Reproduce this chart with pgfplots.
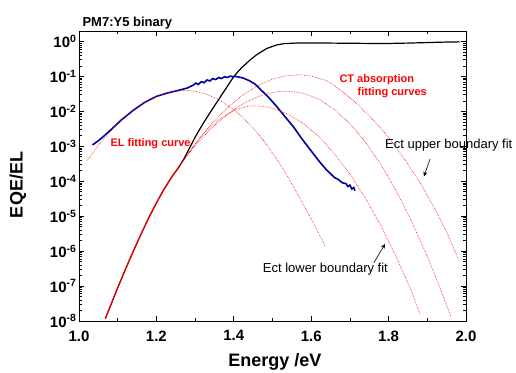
\documentclass[border=0pt]{standalone}
\usepackage{pgfplots}
\pgfplotsset{compat=1.18}
\usepackage{pgfplotstable}
\usepackage{fontspec}
\setmainfont{Liberation Sans}
\usetikzlibrary{arrows.meta}
\definecolor{elblue}{RGB}{0,0,160}

\pgfplotstableread{
x L
1.068 -7.93
1.08 -7.60
1.10 -7.05
1.12 -6.52
1.14 -6.01
1.16 -5.52
1.18 -5.05
1.20 -4.62
1.22 -4.22
1.24 -3.87
1.26 -3.56
1.27 -3.38
1.28 -3.17
1.30 -2.74
1.321 -2.34
1.339 -2.03
1.356 -1.74
1.38 -1.34
1.40 -1.00
1.42 -0.75
1.442 -0.53
1.46 -0.37
1.485 -0.20
1.51 -0.10
1.53 -0.06
1.56 -0.045
1.60 -0.04
1.65 -0.045
1.70 -0.05
1.75 -0.055
1.80 -0.055
1.85 -0.045
1.90 -0.03
1.95 -0.015
1.985 -0.01
}\eqe

\pgfplotstableread{
x L
1.035 -2.96
1.05 -2.84
1.065 -2.70
1.08 -2.55
1.11 -2.24
1.14 -1.97
1.17 -1.74
1.20 -1.57
1.23 -1.47
1.26 -1.39
1.28 -1.33
1.295 -1.25
1.302 -1.19
1.308 -1.23
1.316 -1.15
1.323 -1.18
1.331 -1.10
1.338 -1.13
1.346 -1.06
1.353 -1.09
1.361 -1.03
1.368 -1.06
1.376 -1.01
1.383 -1.03
1.391 -0.99
1.398 -1.01
1.405 -1.00
1.415 -1.02
1.425 -1.05
1.44 -1.12
1.455 -1.22
1.468 -1.36
1.49 -1.60
1.51 -1.85
1.53 -2.12
1.554 -2.44
1.575 -2.77
1.597 -3.09
1.62 -3.42
1.64 -3.68
1.66 -3.89
1.67 -3.95
1.68 -4.04
1.69 -4.07
1.695 -4.15
1.70 -4.11
1.705 -4.22
1.71 -4.18
1.713 -4.27
}\el

\pgfplotstableread{
x L
1.021 -3.40
1.05 -2.97
1.08 -2.58
1.11 -2.24
1.14 -1.97
1.17 -1.74
1.20 -1.57
1.23 -1.46
1.25 -1.42
1.275 -1.40
1.30 -1.42
1.33 -1.51
1.36 -1.66
1.39 -1.87
1.42 -2.14
1.45 -2.48
1.48 -2.88
1.51 -3.35
1.54 -3.88
1.57 -4.47
1.60 -5.08
1.636 -5.85
}\elfit

\pgfplotstableread{
x L
1.068 -7.93
1.08 -7.60
1.10 -7.05
1.12 -6.52
1.14 -6.01
1.16 -5.52
1.18 -5.05
1.20 -4.62
1.22 -4.22
1.24 -3.87
1.26 -3.57
}\common

\pgfplotstableread{
x L
1.26 -3.57
1.28 -3.25
1.30 -2.94
1.32 -2.66
1.34 -2.39
1.36 -2.15
1.38 -1.94
1.40 -1.74
1.42 -1.56
1.44 -1.41
1.46 -1.28
1.48 -1.17
1.50 -1.08
1.53 -0.99
1.57 -0.95
1.60 -0.99
1.64 -1.12
1.68 -1.42
1.72 -1.80
1.76 -2.24
1.80 -2.74
1.84 -3.35
1.88 -4.02
1.92 -4.80
1.95 -5.45
1.98 -6.23
}\ctone

\pgfplotstableread{
x L
1.26 -3.55
1.28 -3.26
1.30 -2.99
1.32 -2.74
1.34 -2.51
1.36 -2.30
1.38 -2.12
1.40 -1.95
1.42 -1.81
1.44 -1.69
1.46 -1.59
1.48 -1.52
1.50 -1.46
1.52 -1.43
1.54 -1.42
1.58 -1.48
1.62 -1.65
1.66 -1.95
1.70 -2.35
1.74 -2.88
1.78 -3.52
1.82 -4.28
1.86 -5.16
1.90 -6.15
1.93 -6.97
1.961 -7.88
}\cttwo

\pgfplotstableread{
x L
1.26 -3.57
1.28 -3.23
1.30 -2.93
1.32 -2.67
1.34 -2.44
1.36 -2.25
1.38 -2.10
1.40 -1.98
1.42 -1.90
1.44 -1.85
1.455 -1.84
1.48 -1.86
1.50 -1.91
1.54 -2.08
1.58 -2.35
1.62 -2.72
1.66 -3.21
1.70 -3.79
1.74 -4.48
1.78 -5.27
1.82 -6.17
1.86 -7.17
1.881 -7.80
}\ctthree

\begin{document}
\begin{tikzpicture}
\useasboundingbox (0,0) rectangle (516pt,372pt);
\begin{axis}[
  at={(79pt,51pt)}, anchor=south west,
  scale only axis, width=387pt, height=290pt,
  xmin=1, xmax=2,
  ymode=log, log basis y=10, ymin=1e-8, ymax=2,
  xtick={1.0,1.2,1.4,1.6,1.8,2.0},
  xticklabels={1.0,1.2,1.4,1.6,1.8,2.0},
  minor xtick={1.1,1.3,1.5,1.7,1.9},
  ytick={1e-8,1e-7,1e-6,1e-5,1e-4,1e-3,1e-2,1e-1,1},
  yticklabels={10\textsuperscript{-8},10\textsuperscript{-7},10\textsuperscript{-6},10\textsuperscript{-5},10\textsuperscript{-4},10\textsuperscript{-3},10\textsuperscript{-2},10\textsuperscript{-1},10\textsuperscript{0}},
  minor ytick={2e-8,3e-8,4e-8,5e-8,6e-8,7e-8,8e-8,9e-8,
               2e-7,3e-7,4e-7,5e-7,6e-7,7e-7,8e-7,9e-7,
               2e-6,3e-6,4e-6,5e-6,6e-6,7e-6,8e-6,9e-6,
               2e-5,3e-5,4e-5,5e-5,6e-5,7e-5,8e-5,9e-5,
               2e-4,3e-4,4e-4,5e-4,6e-4,7e-4,8e-4,9e-4,
               2e-3,3e-3,4e-3,5e-3,6e-3,7e-3,8e-3,9e-3,
               2e-2,3e-2,4e-2,5e-2,6e-2,7e-2,8e-2,9e-2,
               2e-1,3e-1,4e-1,5e-1,6e-1,7e-1,8e-1,9e-1,2},
  tick align=inside,
  major tick length=5pt, minor tick length=3pt,
  axis line style={line width=1pt},
  every tick/.style={black, line width=0.7pt},
  ticklabel style={font=\bfseries\fontsize{15}{15}\selectfont},
  yticklabel style={xshift=1pt},
  xticklabel style={yshift=-6pt},
  xlabel={Energy /eV},
  ylabel={EQE/EL},
  xlabel style={font=\bfseries\fontsize{18}{18}\selectfont, at={(axis description cs:0.506,-0.141)}, anchor=center},
  ylabel style={font=\bfseries\fontsize{18}{18}\selectfont, at={(axis description cs:-0.158,0.469)}, anchor=center},
  clip=false,
]
\addplot[black, line width=1.2pt] table[x=x, y expr={10^(\thisrow{L})}] {\eqe};
\addplot[elblue, line width=1.6pt] table[x=x, y expr={10^(\thisrow{L})}] {\el};
\addplot[red, line width=0.6pt, densely dotted] table[x=x, y expr={10^(\thisrow{L})}] {\elfit};
\addplot[red, line width=0.6pt, densely dotted] table[x=x, y expr={10^(\thisrow{L})}] {\ctone};
\addplot[red, line width=0.6pt, densely dotted] table[x=x, y expr={10^(\thisrow{L})}] {\cttwo};
\addplot[red, line width=0.6pt, densely dotted] table[x=x, y expr={10^(\thisrow{L})}] {\ctthree};
\addplot[red, line width=1.1pt] table[x=x, y expr={10^(\thisrow{L})}] {\common};

\node[anchor=base west, font=\bfseries\fontsize{13}{13}\selectfont] at (axis description cs:0,1.015) {PM7:Y5 binary};
\node[anchor=west, red, font=\bfseries\fontsize{11}{11}\selectfont] at (axis description cs:0.0724,0.612) {EL fitting curve};
\node[anchor=west, red, font=\bfseries\fontsize{11}{11}\selectfont] at (axis description cs:0.664,0.831) {CT absorption};
\node[anchor=west, red, font=\bfseries\fontsize{11}{11}\selectfont] at (axis description cs:0.711,0.787) {fitting curves};
\node[anchor=west, font=\fontsize{13}{13}\selectfont] at (axis description cs:0.782,0.605) {Ect upper boundary fit};
\node[anchor=west, font=\fontsize{13}{13}\selectfont] at (axis description cs:0.466,0.178) {Ect lower boundary fit};
\draw[-{Stealth[length=5pt,width=4pt]}, line width=0.6pt] (axis description cs:0.907,0.558) -- (axis description cs:0.891,0.498);
\draw[-{Stealth[length=5pt,width=4pt]}, line width=0.6pt] (axis description cs:0.762,0.201) -- (axis description cs:0.791,0.266);
\end{axis}
\end{tikzpicture}
\end{document}
